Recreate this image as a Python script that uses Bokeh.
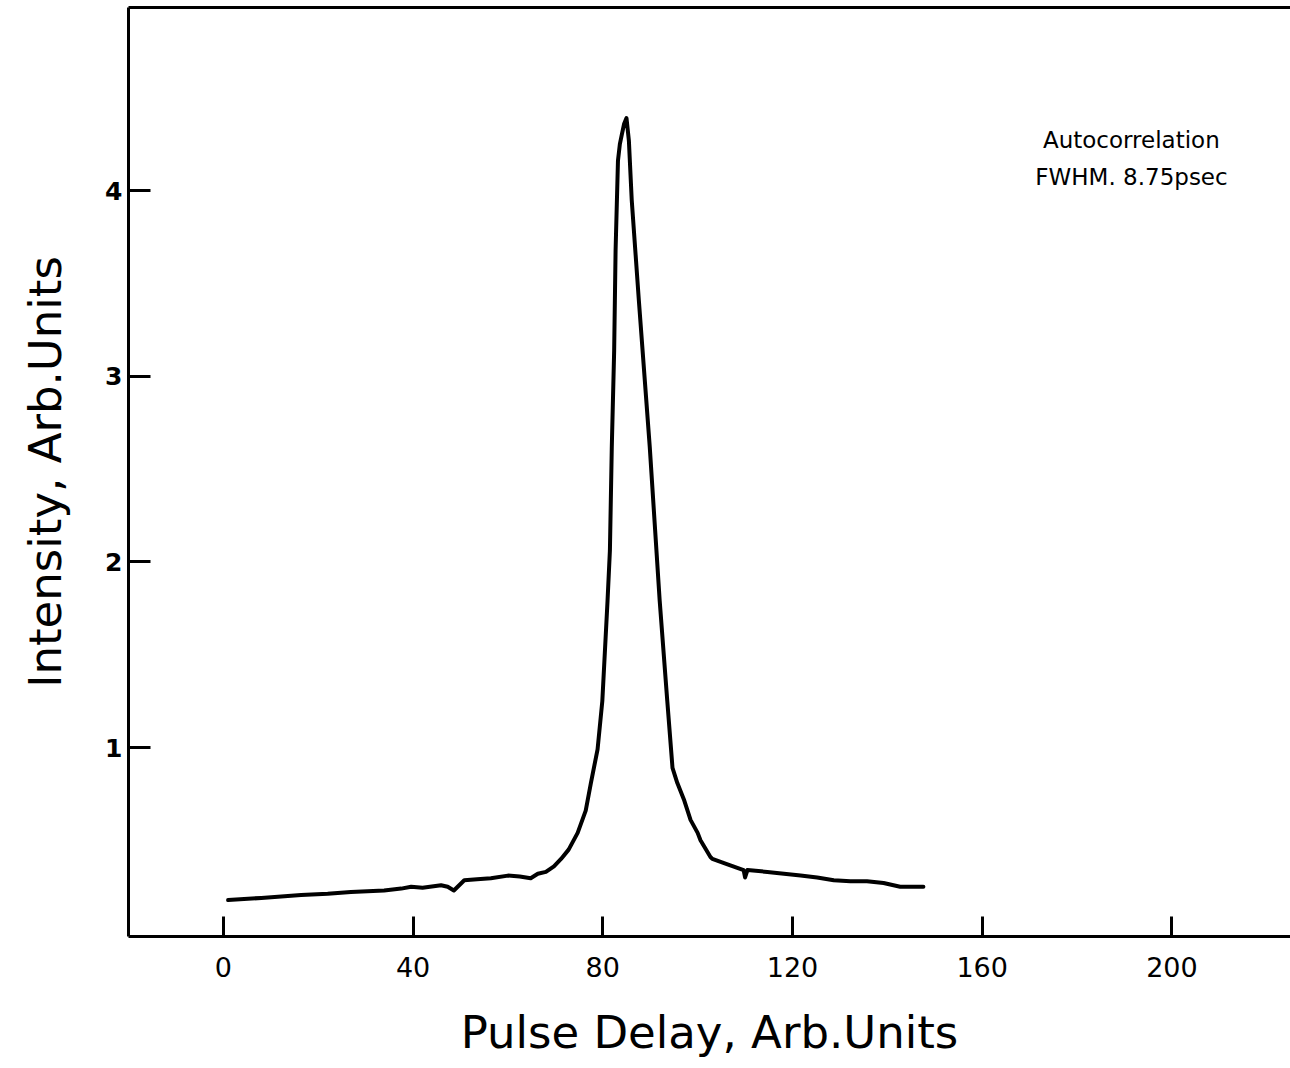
from bokeh.plotting import figure
from bokeh.models import FixedTicker, Range1d, Label, LinearAxis
from bokeh.embed import file_html
from bokeh.resources import INLINE

# Data
delay = [1.0, 8.0, 16.4, 22.0, 26.9, 33.9, 37.5, 39.6, 42.0, 45.9, 47.3, 48.6,
         50.8, 53.5, 56.4, 60.0, 62.5, 64.8, 66.3, 68.0, 69.7, 71.2, 72.8, 74.7,
         76.4, 77.5, 78.9, 79.9, 81.0, 81.5, 81.9, 82.4, 82.7, 83.2, 83.6, 84.0,
         84.5, 85.0, 85.5, 86.1, 87.6, 89.9, 92.0, 93.6, 94.7, 95.7, 97.1, 98.5,
         100.0, 100.6, 102.7, 103.1, 106.3, 109.7, 110.0, 110.5, 114.7, 118.2,
         121.7, 125.2, 128.7, 132.2, 135.7, 139.2, 142.7, 147.6]
intensity = [0.178, 0.19, 0.205, 0.212, 0.222, 0.23, 0.24, 0.25, 0.245, 0.258,
             0.25, 0.23, 0.285, 0.29, 0.296, 0.31, 0.305, 0.296, 0.32, 0.33,
             0.36, 0.40, 0.45, 0.54, 0.66, 0.81, 0.99, 1.25, 1.79, 2.06, 2.62,
             3.14, 3.68, 4.16, 4.25, 4.30, 4.36, 4.39, 4.27, 3.95, 3.41, 2.62,
             1.79, 1.25, 0.89, 0.81, 0.72, 0.61, 0.54, 0.50, 0.41, 0.40, 0.37,
             0.34, 0.30, 0.34, 0.33, 0.32, 0.31, 0.30, 0.285, 0.28, 0.28, 0.27,
             0.25, 0.25]
x_ticks = [0, 40, 80, 120, 160, 200]
y_ticks = [1, 2, 3, 4]

FONT = "DejaVu Sans"

p = figure(width=1290, height=1068, output_backend="svg", toolbar_location=None,
           x_range=Range1d(-20, 225), y_range=Range1d(-0.018, 4.986),
           min_border_left=128, min_border_right=0, min_border_top=7,
           min_border_bottom=132)
p.grid.visible = False
p.outline_line_color = None
p.background_fill_color = "white"
p.border_fill_color = "white"

p.line(delay, intensity, line_color="black", line_width=4, line_join="round",
       line_cap="round")

xa = p.xaxis[0]
xa.ticker = FixedTicker(ticks=x_ticks)
xa.axis_line_width = 3
xa.axis_line_color = "black"
xa.major_tick_line_width = 3
xa.major_tick_line_color = "black"
xa.major_tick_in = 20
xa.major_tick_out = 0
xa.minor_tick_line_color = None
xa.major_label_text_font = FONT
xa.major_label_text_font_size = "27px"
xa.major_label_text_color = "black"
xa.major_label_standoff = 20
xa.axis_label = "Pulse Delay, Arb.Units"
xa.axis_label_text_font = FONT
xa.axis_label_text_font_size = "45px"
xa.axis_label_text_font_style = "normal"
xa.axis_label_text_color = "black"
xa.axis_label_standoff = 26

ya = p.yaxis[0]
ya.ticker = FixedTicker(ticks=y_ticks)
ya.axis_line_width = 3
ya.axis_line_color = "black"
ya.major_tick_line_width = 3
ya.major_tick_line_color = "black"
ya.major_tick_in = 22
ya.major_tick_out = 0
ya.minor_tick_line_color = None
ya.major_label_text_font = FONT
ya.major_label_text_font_size = "25px"
ya.major_label_text_font_style = "bold"
ya.major_label_text_color = "black"
ya.major_label_standoff = 6
ya.axis_label = "Intensity, Arb.Units"
ya.axis_label_text_font = FONT
ya.axis_label_text_font_size = "45px"
ya.axis_label_text_font_style = "normal"
ya.axis_label_text_color = "black"
ya.axis_label_standoff = 30

top = LinearAxis(ticker=FixedTicker(ticks=[]), axis_line_width=3,
                 axis_line_color="black", major_tick_in=0, major_tick_out=0,
                 minor_tick_in=0, minor_tick_out=0)
p.add_layout(top, "above")

p.add_layout(Label(x=172.8, y=4.34, text="Autocorrelation", text_font=FONT,
                   text_font_size="23px", text_baseline="top", text_align="left",
                   text_color="black"))
p.add_layout(Label(x=171.2, y=4.145, text="FWHM. 8.75psec", text_font=FONT,
                   text_font_size="23px", text_baseline="top", text_align="left",
                   text_color="black"))

open("out.html", "w").write(file_html(p, INLINE))
